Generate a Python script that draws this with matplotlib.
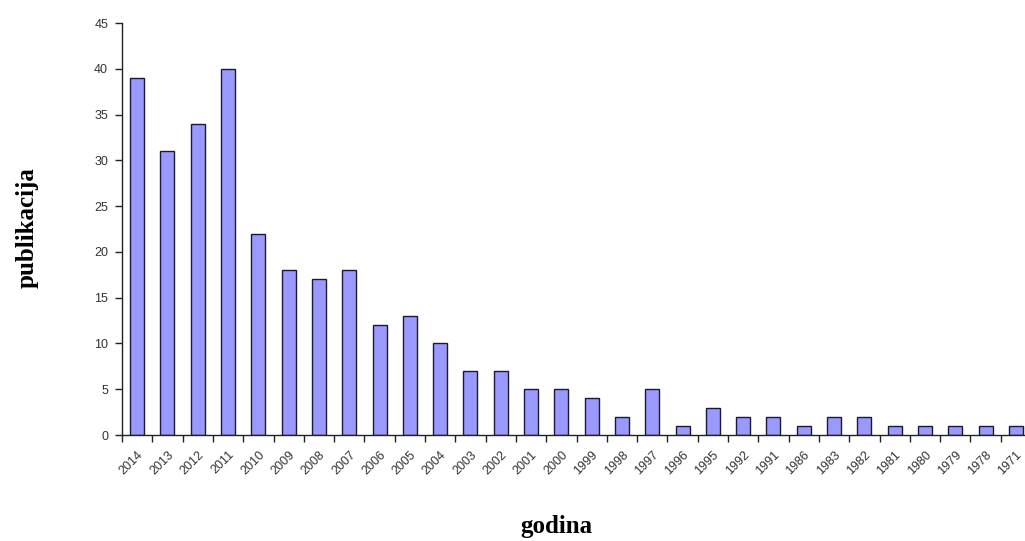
import matplotlib
matplotlib.use("Agg")
import matplotlib.pyplot as plt
import numpy as np

years = ["2014", "2013", "2012", "2011", "2010", "2009", "2008", "2007", "2006", "2005",
         "2004", "2003", "2002", "2001", "2000", "1999", "1998", "1997", "1996", "1995",
         "1992", "1991", "1986", "1983", "1982", "1981", "1980", "1979", "1978", "1971"]
counts = [39, 31, 34, 40, 22, 18, 17, 18, 12, 13,
          10, 7, 7, 5, 5, 4, 2, 5, 1, 3,
          2, 2, 1, 2, 2, 1, 1, 1, 1, 1]
yticks = [0, 5, 10, 15, 20, 25, 30, 35, 40, 45]

fig = plt.figure(figsize=(10.25, 5.41), dpi=100)
ax = fig.add_axes([122/1025, (541-435)/541, 909/1025, (435-23)/541])

x = np.arange(len(years))
ax.bar(x, counts, width=0.46, color="#9999FF", edgecolor="#1a1a2e", linewidth=1.0)

ax.set_xlim(-0.5, len(years) - 0.5)
ax.set_ylim(0, 45)
ax.set_yticks(yticks)
ax.set_yticklabels([str(v) for v in yticks], fontsize=9, family="Liberation Sans", color="#333333")
ax.set_xticks(x)
ax.set_xticklabels(years, rotation=45, ha="right", rotation_mode="anchor",
                   fontsize=9, family="Liberation Sans", color="#333333")
ax.tick_params(axis="x", which="major", length=0, pad=10)
ax.set_xticks(np.arange(-0.5, len(years), 1.0), minor=True)
ax.tick_params(axis="x", which="minor", length=5, width=1, color="#222222", direction="out")
ax.tick_params(axis="y", length=5, width=1, color="#222222", direction="out", pad=5)

for s in ["top", "right"]:
    ax.spines[s].set_visible(False)
for s in ["left", "bottom"]:
    ax.spines[s].set_color("#222222")
    ax.spines[s].set_linewidth(1.0)

fig.text(556/1025, 1 - 527/541, "godina", ha="center", va="center",
         fontsize=18, fontweight="bold", family="Liberation Serif")
fig.text(27/1025, 1 - 228/541, "publikacija", ha="center", va="center", rotation=90,
         fontsize=18, fontweight="bold", family="Liberation Serif")

fig.savefig("out.png", dpi=100)
